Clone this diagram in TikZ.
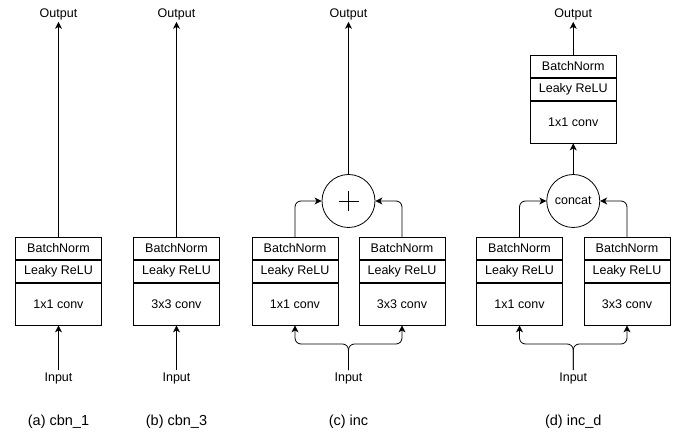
\documentclass[tikz,border=0pt]{standalone}
\usepackage{fontspec}
\setmainfont{Liberation Sans}
\usetikzlibrary{arrows.meta}
\tikzset{
  rowbox/.style={draw, line width=0.8pt, minimum width=86pt, inner sep=0pt, anchor=north, font=\fontsize{12.5}{14}\selectfont},
  lbl/.style={inner sep=2pt, font=\fontsize{12.5}{14}\selectfont},
  captext/.style={inner sep=0pt, font=\fontsize{14.5}{16}\selectfont},
  arr/.style={line width=0.8pt, -{Stealth[length=7pt,width=7pt,inset=2pt]}},
  opnode/.style={draw, circle, line width=0.8pt, minimum size=53pt, inner sep=0pt, font=\fontsize{12.5}{14}\selectfont},
}
\newcommand{\blk}[4]{%
  \node[rowbox, minimum height=22pt] (#1bn) at (#2,#3) {BatchNorm};
  \node[rowbox, minimum height=22pt] (#1lr) at (#1bn.south) {Leaky ReLU};
  \node[rowbox, minimum height=42pt] (#1cv) at (#1lr.south) {#4};
}
\begin{document}
\begin{tikzpicture}[x=1pt, y=-1pt]
\useasboundingbox (0,0) rectangle (678,435);
% (a)
\blk{a}{58.5}{237}{1x1 conv}
\node[lbl] (oa) at (58.5,14) {Output};
\node[lbl] (ia) at (58.5,378) {Input};
\draw[arr] (abn.north) -- (oa.south);
\draw[arr] (ia.north) -- (acv.south);
\node[captext] (capa) at (58.5,422) {(a) cbn\_1};
% (b)
\blk{b}{176.5}{237}{3x3 conv}
\node[lbl] (ob) at (176.5,14) {Output};
\node[lbl] (ib) at (176.5,378) {Input};
\draw[arr] (bbn.north) -- (ob.south);
\draw[arr] (ib.north) -- (bcv.south);
\node[captext] (capb) at (176.5,422) {(b) cbn\_3};
% (c)
\blk{cL}{295}{237}{1x1 conv}
\blk{cR}{402}{237}{3x3 conv}
\node[opnode] (cp) at (348.5,201) {};
\draw[line width=0.6pt] ([xshift=-10pt]cp.center) -- ([xshift=10pt]cp.center);
\draw[line width=0.6pt] ([yshift=-10pt]cp.center) -- ([yshift=10pt]cp.center);
\node[lbl] (oc) at (348.5,14) {Output};
\node[lbl] (ic) at (348.5,378) {Input};
\coordinate (cbr) at (348.5,344);
\draw[arr, rounded corners=6pt] (cLbn.north) |- (cp.west);
\draw[arr, rounded corners=6pt] (cRbn.north) |- (cp.east);
\draw[arr] (cp.north) -- (oc.south);
\draw[arr, rounded corners=6pt] (ic.north) -- (cbr) -| (cLcv.south);
\draw[arr, rounded corners=6pt] (ic.north) -- (cbr) -| (cRcv.south);
\node[captext] (capc) at (348.5,422) {(c) inc};
% (d)
\blk{dL}{519.5}{237}{1x1 conv}
\blk{dR}{627}{237}{3x3 conv}
\blk{dT}{573.25}{55}{1x1 conv}
\node[opnode] (dc) at (573.25,201) {concat};
\node[lbl] (od) at (573.25,14) {Output};
\node[lbl] (id) at (573.25,378) {Input};
\coordinate (dbr) at (573.25,344);
\draw[arr, rounded corners=6pt] (dLbn.north) |- (dc.west);
\draw[arr, rounded corners=6pt] (dRbn.north) |- (dc.east);
\draw[arr] (dc.north) -- (dTcv.south);
\draw[arr] (dTbn.north) -- (od.south);
\draw[arr, rounded corners=6pt] (id.north) -- (dbr) -| (dLcv.south);
\draw[arr, rounded corners=6pt] (id.north) -- (dbr) -| (dRcv.south);
\node[captext] (capd) at (573.25,422) {(d) inc\_d};
\end{tikzpicture}
\end{document}
